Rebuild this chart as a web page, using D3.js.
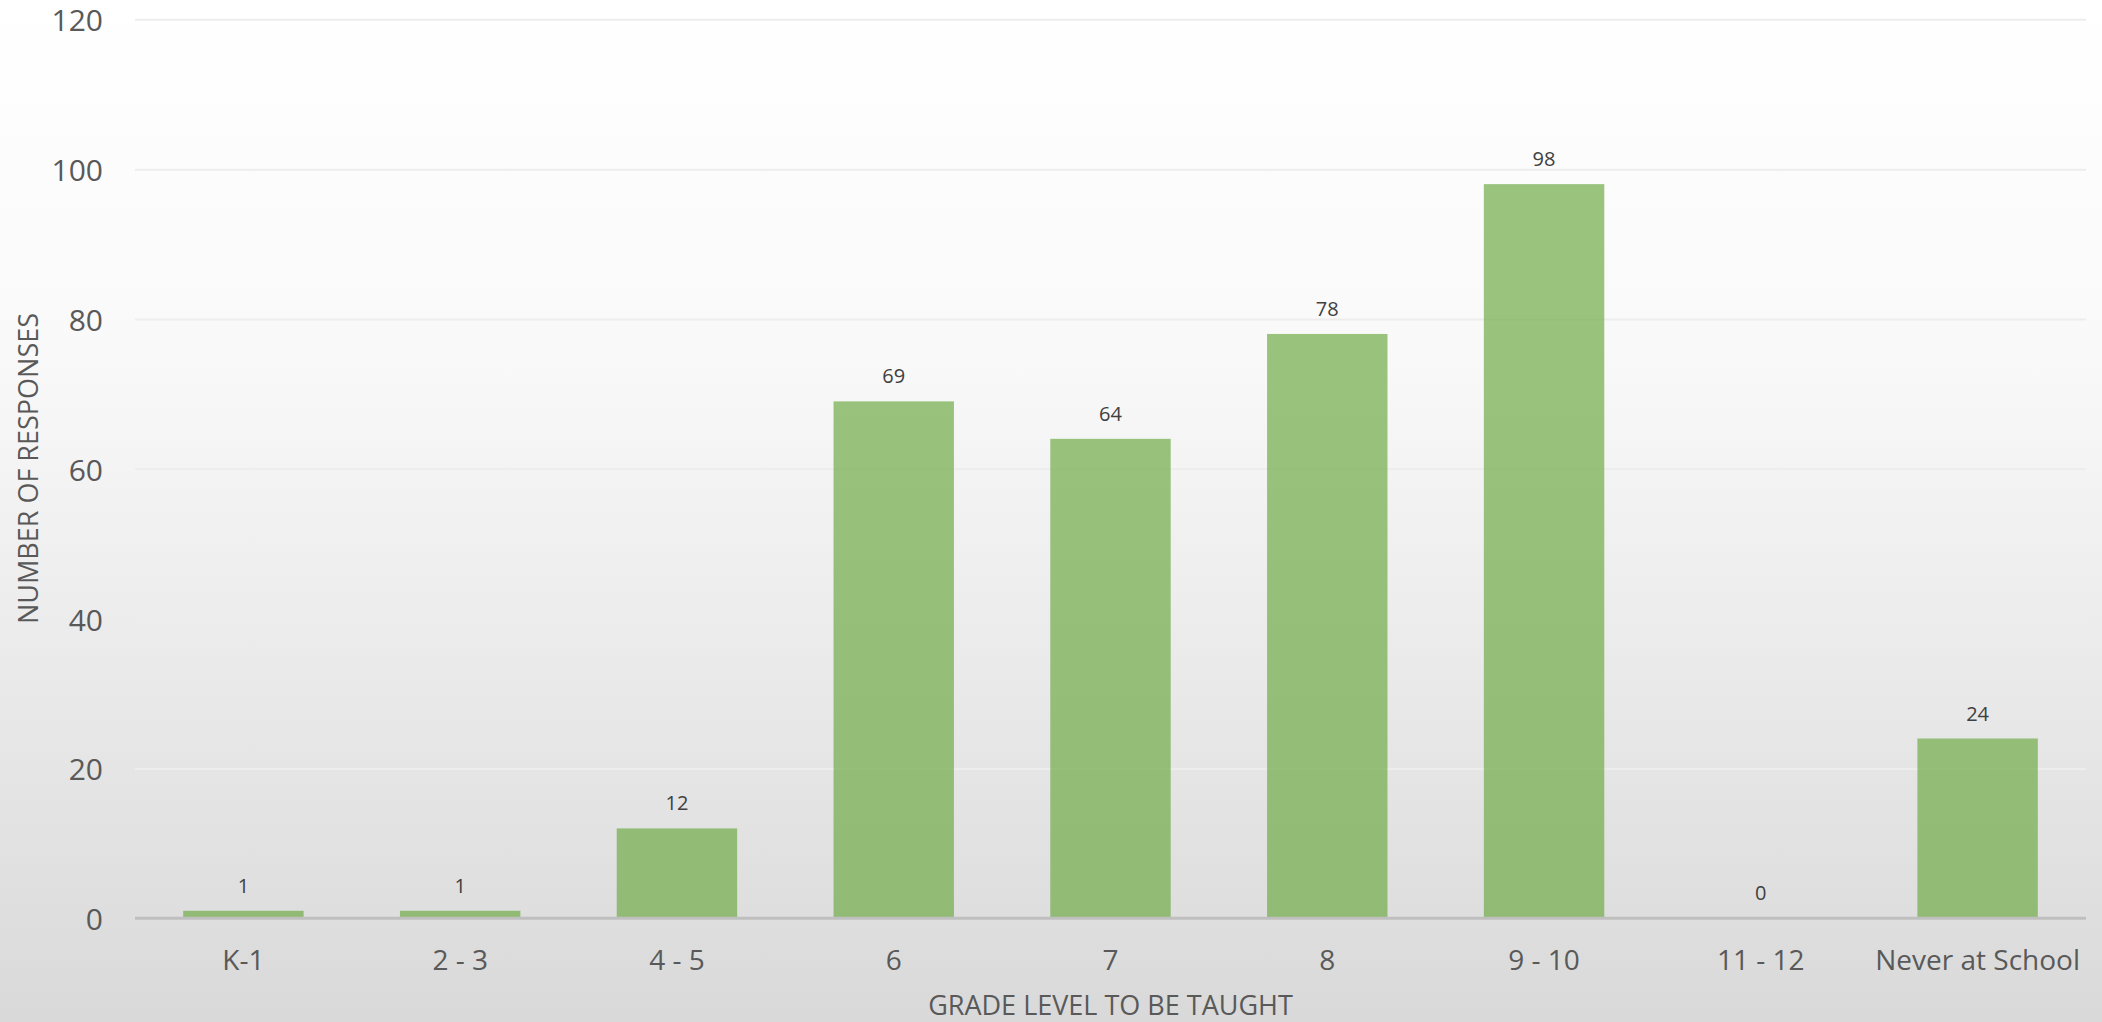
<!DOCTYPE html>
<html>
<head>
<meta charset="utf-8">
<script src="https://cdn.jsdelivr.net/npm/d3@7"></script>
<style>
  html, body { margin: 0; padding: 0; background: #fff; }
  svg { display: block; }
  text { font-family: "Open Sans", sans-serif; }
</style>
</head>
<body>
<svg id="chart" width="2102" height="1022"></svg>
<script>
const categories = ["K-1", "2 - 3", "4 - 5", "6", "7", "8", "9 - 10", "11 - 12", "Never at School"];
const responses = [1, 1, 12, 69, 64, 78, 98, 0, 24];
const yTicks = [0, 20, 40, 60, 80, 100, 120];
const xTitle = "GRADE LEVEL TO BE TAUGHT";
const yTitle = "NUMBER OF RESPONSES";

const W = 2102, H = 1022;
const margin = { left: 135, right: 16, top: 19.3, bottom: 103.7 };
const svg = d3.select("#chart");

const defs = svg.append("defs");
const grad = defs.append("linearGradient").attr("id", "bg").attr("x1", 0).attr("y1", 0).attr("x2", 0).attr("y2", 1);
grad.append("stop").attr("offset", "0%").attr("stop-color", "#ffffff");
grad.append("stop").attr("offset", "35%").attr("stop-color", "#f9f9f9");
grad.append("stop").attr("offset", "100%").attr("stop-color", "#d9d9d9");
svg.append("rect").attr("width", W).attr("height", H).attr("fill", "url(#bg)");

const x = d3.scaleBand()
  .domain(categories)
  .range([margin.left, W - margin.right])
  .paddingInner(0.8 / 1.8)
  .paddingOuter(0.4 / 1.8);

const y = d3.scaleLinear().domain([0, 120]).range([H - margin.bottom, margin.top]);

// gridlines
const grid = svg.append("g")
  .call(d3.axisLeft(y).tickValues(yTicks.filter(t => t > 0)).tickSize(-(W - margin.right - margin.left)).tickFormat(""))
  .attr("transform", `translate(${margin.left},0)`);
grid.select(".domain").remove();
grid.selectAll("line").attr("stroke", "#ededed").attr("stroke-width", 2);

// y tick labels
const yAxis = svg.append("g")
  .attr("transform", `translate(${margin.left},0)`)
  .call(d3.axisLeft(y).tickValues(yTicks).tickSize(0).tickPadding(32));
yAxis.select(".domain").remove();
yAxis.selectAll("text")
  .attr("font-family", "Open Sans")
  .attr("font-size", 30)
  .attr("fill", "#595959")
  .attr("dy", null)
  .attr("dominant-baseline", "central");

// bars
svg.append("g").selectAll("rect")
  .data(categories.map((c, i) => ({ c, v: responses[i] })))
  .join("rect")
  .attr("x", d => x(d.c))
  .attr("width", x.bandwidth())
  .attr("y", d => y(d.v))
  .attr("height", d => y(0) - y(d.v))
  .attr("fill", "#70ad47")
  .attr("fill-opacity", 0.7);

// x axis
const xAxis = svg.append("g")
  .attr("transform", `translate(0,${y(0)})`)
  .call(d3.axisBottom(x).tickSize(0).tickPadding(0));
xAxis.select(".domain").attr("stroke", "#bfbfbf").attr("stroke-width", 3)
  .attr("d", `M${margin.left},0H${W - margin.right}`);
xAxis.selectAll("text")
  .attr("font-family", "Open Sans")
  .attr("font-size", 28)
  .attr("fill", "#595959")
  .attr("dy", null)
  .attr("y", 52);

// data labels
svg.append("g").selectAll("text")
  .data(categories.map((c, i) => ({ c, v: responses[i] })))
  .join("text")
  .attr("x", d => x(d.c) + x.bandwidth() / 2)
  .attr("y", d => y(d.v) - 18)
  .attr("text-anchor", "middle")
  .attr("font-size", 20)
  .attr("fill", "#404040")
  .text(d => d.v);

// axis titles
svg.append("text")
  .attr("x", (margin.left + W - margin.right) / 2)
  .attr("y", 1014.5)
  .attr("text-anchor", "middle")
  .attr("font-size", 27)
  .attr("fill", "#595959")
  .text(xTitle);

svg.append("text")
  .attr("transform", `translate(38.3,468.5) rotate(-90)`)
  .attr("text-anchor", "middle")
  .attr("font-size", 27)
  .attr("fill", "#595959")
  .text(yTitle);
</script>
</body>
</html>
